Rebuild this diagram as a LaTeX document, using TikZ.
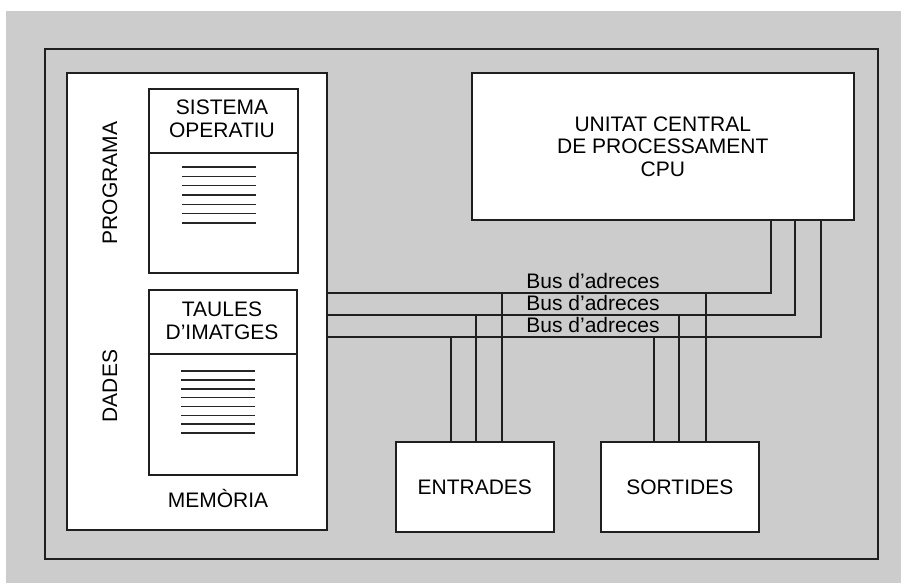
\documentclass[tikz,border=0pt]{standalone}
\usepackage{fontspec}
\setmainfont{Liberation Sans}
\begin{document}
\begin{tikzpicture}[x=1pt,y=-1pt,
  ln/.style={line width=1.6pt,draw=black!88},
  box/.style={ln,fill=white,inner sep=0pt,anchor=north west},
  txt/.style={font=\fontsize{21}{22.5}\selectfont,align=center,inner sep=0pt},
  docline/.style={line width=1.6pt,draw=black!85}]
\useasboundingbox (0,0) rectangle (901,583);
\fill[white] (0,0) rectangle (901,583);
\fill[black!20] (6,11) rectangle (901,583);
% outer frame
\node[ln,draw,inner sep=0pt,anchor=north west,minimum width=833pt,minimum height=510pt] (frame) at (44,48) {};
% memory
\node[box,draw,minimum width=260pt,minimum height=457pt] (mem) at (66,72) {};
\node[box,draw,minimum width=149pt,minimum height=184pt] (prog) at (148,88) {};
\node[box,draw,minimum width=148pt,minimum height=185pt] (dat) at (148,289) {};
\draw[ln] (prog.west |- 0,153) -- (prog.east |- 0,153);
\draw[ln] (dat.west |- 0,354) -- (dat.east |- 0,354);
\node[txt] (so) at (222,119) {SISTEMA\\OPERATIU};
\node[txt] (ti) at (222,321) {TAULES\\D’IMATGES};
\node[txt,rotate=90] (lprog) at (110,183) {PROGRAMA};
\node[txt,rotate=90] (ldad) at (110,386) {DADES};
\node[txt] (lmem) at (218,498) {MEMÒRIA};
\foreach \i in {0,...,6} {\draw[docline] (182,167+9.33*\i) -- (256,167+9.33*\i);}
\foreach \i in {0,...,7} {\draw[docline] (181,371+8.86*\i) -- (255,371+8.86*\i);}
% CPU
\node[box,draw,minimum width=382pt,minimum height=147pt] (cpu) at (471,72) {};
\node[txt] (lcpu) at (cpu.center) {UNITAT CENTRAL\\DE PROCESSAMENT\\CPU};
% IO
\node[box,draw,minimum width=158pt,minimum height=90pt] (ent) at (395,441) {};
\node[txt] at (ent.center) {ENTRADES};
\node[box,draw,minimum width=158pt,minimum height=90pt] (sor) at (600,441) {};
\node[txt] at (sor.center) {SORTIDES};
% buses
\coordinate (b1) at (771,293);
\coordinate (b2) at (795,315);
\coordinate (b3) at (821,337);
\draw[ln] (mem.east |- b1) -- (b1) -- (b1 |- cpu.south);
\draw[ln] (mem.east |- b2) -- (b2) -- (b2 |- cpu.south);
\draw[ln] (mem.east |- b3) -- (b3) -- (b3 |- cpu.south);
\coordinate (e1) at (502,293);
\coordinate (e2) at (476,315);
\coordinate (e3) at (451,337);
\coordinate (s1) at (706,293);
\coordinate (s2) at (679,315);
\coordinate (s3) at (654,337);
\foreach \c in {e1,e2,e3} {\draw[ln] (\c) -- (\c |- ent.north);}
\foreach \c in {s1,s2,s3} {\draw[ln] (\c) -- (\c |- sor.north);}
\node[txt,anchor=base] (l1) at (593,288) {Bus d’adreces};
\node[txt,anchor=base] (l2) at (593,310) {Bus d’adreces};
\node[txt,anchor=base] (l3) at (593,332) {Bus d’adreces};
\end{tikzpicture}
\end{document}
